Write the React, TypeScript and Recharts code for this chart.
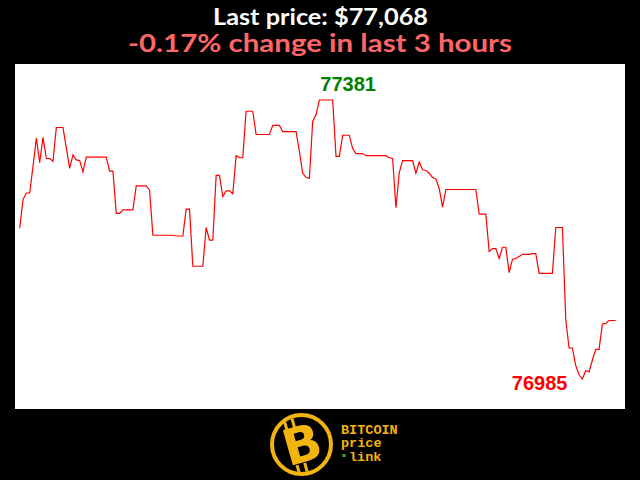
import React from "react";
import { LineChart, Line, XAxis, YAxis, LabelList } from "recharts";

// one price per minute, last 3 hours
const prices = [
  77199, 77240, 77249, 77249, 77287, 77327, 77292, 77328, 77298, 77298,
  77294, 77342, 77342, 77342, 77313, 77284, 77303, 77296, 77295, 77279,
  77300, 77300, 77300, 77300, 77300, 77300, 77300, 77280, 77280, 77220,
  77220, 77225, 77225, 77225, 77225, 77259, 77259, 77259, 77259, 77253,
  77189, 77189, 77189, 77189, 77189, 77189, 77189, 77188, 77188, 77188,
  77226, 77226, 77145, 77145, 77145, 77145, 77200, 77182, 77182, 77274,
  77274, 77244, 77252, 77252, 77248, 77302, 77299, 77299, 77365, 77365,
  77365, 77332, 77332, 77332, 77332, 77332, 77345, 77345, 77345, 77336,
  77336, 77336, 77336, 77336, 77308, 77277, 77271, 77270, 77351, 77360,
  77381, 77381, 77381, 77381, 77381, 77301, 77301, 77331, 77331, 77331,
  77312, 77305, 77305, 77305, 77302, 77302, 77302, 77302, 77302, 77302,
  77302, 77299, 77298, 77228, 77278, 77295, 77295, 77295, 77295, 77277,
  77293, 77282, 77281, 77277, 77271, 77269, 77255, 77229, 77254, 77254,
  77254, 77254, 77254, 77254, 77254, 77254, 77254, 77254, 77219, 77219,
  77219, 77166, 77170, 77170, 77156, 77172, 77172, 77136, 77155, 77156,
  77159, 77162, 77162, 77162, 77163, 77163, 77135, 77135, 77135, 77135,
  77135, 77200, 77200, 77200, 77069, 77029, 77029, 77004, 76991, 76985,
  76997, 76995, 77012, 77027, 77027, 77063, 77064, 77068, 77068, 77068,
];

const lastPrice = "$77,068";
const changeText = "-0.17% change in last 3 hours";

const data = prices.map((p, i) => ({ t: i, price: p }));
const maxVal = Math.max(...prices);
const minVal = Math.min(...prices);
const maxIdx = prices.indexOf(maxVal);
const minIdx = prices.indexOf(minVal);

const gold = "#f2b40f";

function ExtremeLabel(props: any) {
  const { x, y, index, value } = props;
  const font = { fontFamily: "Liberation Sans, Arial, sans-serif", fontWeight: 700, fontSize: 20 };
  if (index === maxIdx) {
    return (
      <text x={x + 1} y={y - 9} fill="#008000" textAnchor="start" style={font}>
        {value}
      </text>
    );
  }
  if (index === minIdx) {
    return (
      <text x={x - 15} y={y + 11} fill="#ff0000" textAnchor="end" style={font}>
        {value}
      </text>
    );
  }
  return null;
}

export default function App() {
  return (
    <div style={{ position: "fixed", left: 0, top: 0, width: 640, height: 480, background: "#000", overflow: "hidden" }}>
      <svg width={640} height={480} style={{ position: "absolute", left: 0, top: 0 }}>
        <text x={213} y={25} fill="#fff" textLength={215} lengthAdjust="spacingAndGlyphs"
          style={{ fontFamily: "Lato, sans-serif", fontWeight: 700, fontSize: 22 }}>
          Last price: {lastPrice}
        </text>
        <text x={128} y={51.5} fill="#ff6666" textLength={384} lengthAdjust="spacingAndGlyphs"
          style={{ fontFamily: "Lato, sans-serif", fontWeight: 700, fontSize: 25 }}>
          {changeText}
        </text>

        {/* logo */}
        <circle cx={301.5} cy={444.5} r={29.5} fill="#000" stroke={gold} strokeWidth={4} />
        <g transform="rotate(-16 301.5 444.5)">
          <rect x={290} y={417} width={3} height={9} fill={gold} />
          <rect x={298} y={417} width={3} height={9} fill={gold} />
          <rect x={290} y={463} width={3} height={9} fill={gold} />
          <rect x={298} y={463} width={3} height={9} fill={gold} />
          <text x={302} y={462} textAnchor="middle" fill={gold}
            style={{ fontFamily: "DejaVu Sans, sans-serif", fontWeight: 700, fontSize: 50 }}>
            B
          </text>
        </g>
        <g style={{ fontFamily: "Liberation Mono, monospace", fontWeight: 700, fontSize: 13.5 }} fill={gold}>
          <text x={341} y={433.5}>BITCOIN</text>
          <text x={341} y={447}>price</text>
          <text x={349} y={460.5}>link</text>
        </g>
        <rect x={342.5} y={454} width={3} height={3} fill="#2eae2e" />
      </svg>

      <div style={{ position: "absolute", left: 15, top: 64, width: 610, height: 345, background: "#fff" }}>
        <LineChart width={610} height={345} data={data}
          margin={{ top: 36, right: 9.3, bottom: 30, left: 4.7 }}>
          <XAxis dataKey="t" type="number" domain={[0, prices.length - 1]} hide />
          <YAxis domain={[minVal, maxVal]} hide />
          <Line type="linear" dataKey="price" stroke="#ff0000" strokeWidth={1.2}
            dot={false} isAnimationActive={false}>
            <LabelList dataKey="price" content={ExtremeLabel} />
          </Line>
        </LineChart>
      </div>
    </div>
  );
}
